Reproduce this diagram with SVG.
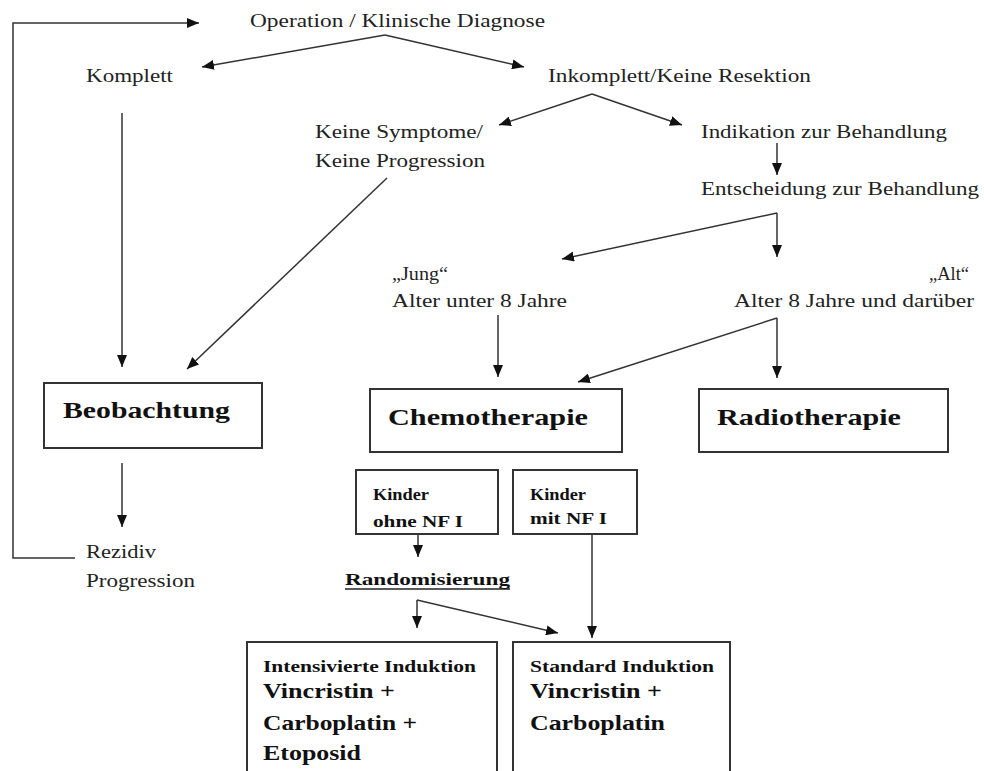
<svg xmlns="http://www.w3.org/2000/svg" width="984" height="771" viewBox="0 0 984 771">
<style>
.t{font-family:"Liberation Serif","DejaVu Serif",serif;font-size:18px;fill:#222}
.b{font-family:"Liberation Serif","DejaVu Serif",serif;font-weight:bold;fill:#111}
.box{fill:#fff;stroke:#333;stroke-width:2}
.c{fill:none;stroke:#333;stroke-width:1.5}
</style>
<defs>
<marker id="ah" viewBox="0 0 12 10" refX="12" refY="5" markerWidth="12" markerHeight="10" markerUnits="userSpaceOnUse" orient="auto">
<path d="M0,0 L12,5 L0,10 z" fill="#111"/>
</marker>
</defs>
<rect width="984" height="771" fill="#fff"/>

<g id="connectors">
<polyline class="c" points="75,558 13,558 13,23 199,23" marker-end="url(#ah)" stroke-width="2"/>
<line class="c" x1="385" y1="35" x2="202" y2="67" marker-end="url(#ah)"/>
<line class="c" x1="385" y1="35" x2="524" y2="67" marker-end="url(#ah)"/>
<line class="c" x1="592" y1="94" x2="499" y2="125" marker-end="url(#ah)"/>
<line class="c" x1="592" y1="94" x2="682" y2="125" marker-end="url(#ah)"/>
<line class="c" x1="777" y1="143" x2="777" y2="175" marker-end="url(#ah)"/>
<line class="c" x1="777" y1="213" x2="562" y2="259" marker-end="url(#ah)"/>
<line class="c" x1="777" y1="213" x2="777" y2="257" marker-end="url(#ah)"/>
<line class="c" x1="122" y1="113" x2="122" y2="367" marker-end="url(#ah)"/>
<line class="c" x1="387" y1="178" x2="187" y2="369" marker-end="url(#ah)"/>
<line class="c" x1="498" y1="315" x2="498" y2="377" marker-end="url(#ah)"/>
<line class="c" x1="777" y1="318" x2="578" y2="382" marker-end="url(#ah)"/>
<line class="c" x1="777" y1="318" x2="777" y2="378" marker-end="url(#ah)"/>
<line class="c" x1="122" y1="463" x2="122" y2="527" marker-end="url(#ah)"/>
<line class="c" x1="418" y1="534" x2="418" y2="557" marker-end="url(#ah)"/>
<line class="c" x1="417" y1="600" x2="417" y2="628" marker-end="url(#ah)"/>
<line class="c" x1="417" y1="600" x2="558" y2="633" marker-end="url(#ah)"/>
<line class="c" x1="592" y1="534" x2="592" y2="638" marker-end="url(#ah)"/>
</g>

<g id="n-operation"><text class="t" x="250" y="27" textLength="295" lengthAdjust="spacingAndGlyphs">Operation / Klinische Diagnose</text></g>
<g id="n-komplett"><text class="t" x="86" y="82" textLength="87" lengthAdjust="spacingAndGlyphs">Komplett</text></g>
<g id="n-inkomplett"><text class="t" x="548" y="82" textLength="263" lengthAdjust="spacingAndGlyphs">Inkomplett/Keine Resektion</text></g>
<g id="n-keine">
<text class="t" x="315" y="138" textLength="168" lengthAdjust="spacingAndGlyphs">Keine Symptome/</text>
<text class="t" x="315" y="167" textLength="170" lengthAdjust="spacingAndGlyphs">Keine Progression</text>
</g>
<g id="n-indikation"><text class="t" x="701" y="138" textLength="246" lengthAdjust="spacingAndGlyphs">Indikation zur Behandlung</text></g>
<g id="n-entscheidung"><text class="t" x="701" y="195" textLength="278" lengthAdjust="spacingAndGlyphs">Entscheidung zur Behandlung</text></g>
<g id="n-jung">
<text class="t" x="392" y="280" textLength="56" lengthAdjust="spacingAndGlyphs">„Jung“</text>
<text class="t" x="392" y="307" textLength="175" lengthAdjust="spacingAndGlyphs">Alter unter 8 Jahre</text>
</g>
<g id="n-alt">
<text class="t" x="929" y="280" textLength="40" lengthAdjust="spacingAndGlyphs">„Alt“</text>
<text class="t" x="734" y="307" textLength="240" lengthAdjust="spacingAndGlyphs">Alter 8 Jahre und darüber</text>
</g>

<g id="n-beobachtung">
<rect class="box" x="44" y="383" width="218" height="65"/>
<text class="b" x="63" y="418" font-size="23" textLength="167" lengthAdjust="spacingAndGlyphs">Beobachtung</text>
</g>
<g id="n-chemo">
<rect class="box" x="370" y="389" width="252" height="63"/>
<text class="b" x="388" y="425" font-size="23" textLength="200" lengthAdjust="spacingAndGlyphs">Chemotherapie</text>
</g>
<g id="n-radio">
<rect class="box" x="699" y="389" width="249" height="63"/>
<text class="b" x="717" y="425" font-size="23" textLength="184" lengthAdjust="spacingAndGlyphs">Radiotherapie</text>
</g>

<g id="n-rezidiv">
<text class="t" x="86" y="558" textLength="70" lengthAdjust="spacingAndGlyphs">Rezidiv</text>
<text class="t" x="86" y="587" textLength="109" lengthAdjust="spacingAndGlyphs">Progression</text>
</g>

<g id="n-ohne">
<rect class="box" x="356" y="470" width="142" height="64"/>
<text class="b" x="373" y="500" font-size="17" textLength="56" lengthAdjust="spacingAndGlyphs">Kinder</text>
<text class="b" x="373" y="527" font-size="17" textLength="90" lengthAdjust="spacingAndGlyphs">ohne NF I</text>
</g>
<g id="n-mit">
<rect class="box" x="513" y="470" width="124" height="64"/>
<text class="b" x="530" y="500" font-size="17" textLength="56" lengthAdjust="spacingAndGlyphs">Kinder</text>
<text class="b" x="530" y="524" font-size="17" textLength="77" lengthAdjust="spacingAndGlyphs">mit NF I</text>
</g>

<g id="n-random">
<text class="b" x="345" y="585" font-size="17" textLength="165" lengthAdjust="spacingAndGlyphs">Randomisierung</text>
<line x1="345" y1="589" x2="510" y2="589" stroke="#222" stroke-width="1.5"/>
</g>

<g id="n-intensiv">
<rect class="box" x="247" y="642" width="250" height="150"/>
<text class="b" x="263" y="672" font-size="16" textLength="213" lengthAdjust="spacingAndGlyphs">Intensivierte Induktion</text>
<text class="b" x="263" y="698" font-size="22" textLength="132" lengthAdjust="spacingAndGlyphs">Vincristin +</text>
<text class="b" x="263" y="730" font-size="22" textLength="154" lengthAdjust="spacingAndGlyphs">Carboplatin +</text>
<text class="b" x="263" y="760" font-size="22" textLength="98" lengthAdjust="spacingAndGlyphs">Etoposid</text>
</g>
<g id="n-standard">
<rect class="box" x="513" y="642" width="217" height="150"/>
<text class="b" x="530" y="672" font-size="16" textLength="184" lengthAdjust="spacingAndGlyphs">Standard Induktion</text>
<text class="b" x="530" y="698" font-size="22" textLength="132" lengthAdjust="spacingAndGlyphs">Vincristin +</text>
<text class="b" x="530" y="730" font-size="22" textLength="135" lengthAdjust="spacingAndGlyphs">Carboplatin</text>
</g>
</svg>
